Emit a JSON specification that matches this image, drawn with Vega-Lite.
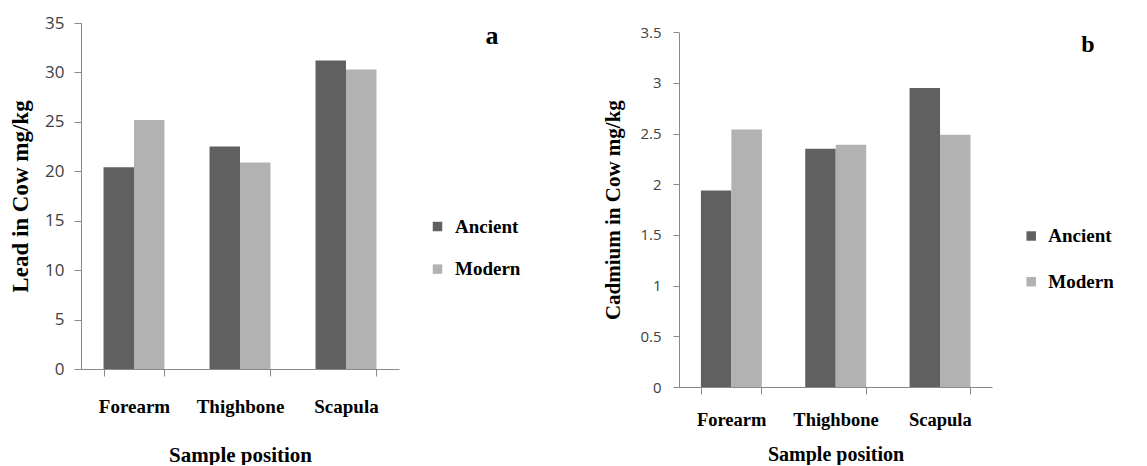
{
  "$schema": "https://vega.github.io/schema/vega-lite/v6.json",
  "background": "white",
  "padding": {"left": 9, "top": 14, "right": 0, "bottom": 0},
  "bounds": "flush",
  "spacing": 280,
  "datasets": {
    "lead": [
      {"position": "Forearm", "period": "Ancient", "value": 20.4},
      {"position": "Forearm", "period": "Modern", "value": 25.2},
      {"position": "Thighbone", "period": "Ancient", "value": 22.5},
      {"position": "Thighbone", "period": "Modern", "value": 20.9},
      {"position": "Scapula", "period": "Ancient", "value": 31.2},
      {"position": "Scapula", "period": "Modern", "value": 30.3}
    ],
    "cadmium": [
      {"position": "Forearm", "period": "Ancient", "value": 1.94},
      {"position": "Forearm", "period": "Modern", "value": 2.54},
      {"position": "Thighbone", "period": "Ancient", "value": 2.35},
      {"position": "Thighbone", "period": "Modern", "value": 2.39},
      {"position": "Scapula", "period": "Ancient", "value": 2.95},
      {"position": "Scapula", "period": "Modern", "value": 2.49}
    ]
  },
  "resolve": {"legend": {"color": "independent"}, "scale": {"color": "independent"}},
  "config": {
    "view": {"stroke": null},
    "axis": {"grid": false, "domainColor": "#898989", "tickColor": "#898989", "labelColor": "#404040", "titleColor": "#000000"},
    "legend": {"padding": 0}
  },
  "hconcat": [
    {
      "width": 318,
      "height": 346,
      "data": {"name": "lead"},
      "title": {"text": "a", "anchor": "start", "frame": "group", "align": "center", "baseline": "middle", "dx": 411, "dy": 47.5, "offset": 0, "font": "Liberation Serif", "fontSize": 26, "fontWeight": "bold", "color": "#000000"},
      "mark": {"type": "bar"},
      "encoding": {
        "x": {
          "field": "position", "type": "nominal", "sort": ["Forearm", "Thighbone", "Scapula"],
          "scale": {"paddingInner": 0.425, "paddingOuter": 0.2125},
          "axis": {"title": "Sample position", "labelAngle": 0, "labelFont": "Liberation Serif", "labelFontSize": 19, "labelFontWeight": "bold", "labelColor": "#000000", "labelBaseline": "alphabetic", "labelPadding": 36, "tickSize": 7, "tickBand": "extent", "titleFont": "Liberation Serif", "titleFontSize": 21, "titleFontWeight": "bold", "titleBaseline": "alphabetic", "titleY": 92}
        },
        "xOffset": {"field": "period", "type": "nominal", "sort": ["Ancient", "Modern"]},
        "y": {
          "field": "value", "type": "quantitative",
          "scale": {"domain": [0, 35], "nice": false},
          "axis": {"title": "Lead in Cow mg/kg", "values": [0, 5, 10, 15, 20, 25, 30, 35], "labelFont": "Open Sans", "labelFontSize": 17, "labelPadding": 10, "tickSize": 7, "titleFont": "Liberation Serif", "titleFontSize": 23, "titleFontWeight": "bold", "titleX": -49}
        },
        "color": {
          "field": "period", "type": "nominal",
          "scale": {"domain": ["Ancient", "Modern"], "range": ["#606060", "#b2b2b2"]},
          "legend": {"title": null, "orient": "none", "legendX": 347, "legendY": 194, "symbolType": "square", "symbolSize": 90, "symbolStrokeWidth": 0, "labelFont": "Liberation Serif", "labelFontSize": 19, "labelFontWeight": "bold", "labelColor": "#000000", "rowPadding": 22.6, "labelOffset": 8}
        }
      }
    },
    {
      "width": 313,
      "height": 364,
      "data": {"name": "cadmium"},
      "title": {"text": "b", "anchor": "start", "frame": "group", "align": "center", "baseline": "middle", "dx": 409, "dy": 46, "offset": 0, "font": "Liberation Serif", "fontSize": 24, "fontWeight": "bold", "color": "#000000"},
      "mark": {"type": "bar"},
      "encoding": {
        "x": {
          "field": "position", "type": "nominal", "sort": ["Forearm", "Thighbone", "Scapula"],
          "scale": {"paddingInner": 0.42, "paddingOuter": 0.21},
          "axis": {"title": "Sample position", "labelAngle": 0, "labelFont": "Liberation Serif", "labelFontSize": 18.5, "labelFontWeight": "bold", "labelColor": "#000000", "labelBaseline": "alphabetic", "labelPadding": 31, "tickSize": 7, "tickBand": "extent", "titleFont": "Liberation Serif", "titleFontSize": 20, "titleFontWeight": "bold", "titleBaseline": "alphabetic", "titleY": 73}
        },
        "xOffset": {"field": "period", "type": "nominal", "sort": ["Ancient", "Modern"]},
        "y": {
          "field": "value", "type": "quantitative",
          "scale": {"domain": [0, 3.5], "nice": false, "range": [364, 9.3]},
          "axis": {"title": "Cadmium in Cow mg/kg", "values": [0, 0.5, 1, 1.5, 2, 2.5, 3, 3.5], "format": "~g", "labelFont": "Open Sans", "labelFontSize": 15, "labelPadding": 12, "tickSize": 6, "titleFont": "Liberation Serif", "titleFontSize": 21, "titleFontWeight": "bold", "titleX": -56}
        },
        "color": {
          "field": "period", "type": "nominal",
          "scale": {"domain": ["Ancient", "Modern"], "range": ["#606060", "#b2b2b2"]},
          "legend": {"title": null, "orient": "none", "legendX": 342.7, "legendY": 203.5, "symbolType": "square", "symbolSize": 90, "symbolStrokeWidth": 0, "labelFont": "Liberation Serif", "labelFontSize": 19, "labelFontWeight": "bold", "labelColor": "#000000", "rowPadding": 25.7, "labelOffset": 7.6}
        }
      }
    }
  ]
}
